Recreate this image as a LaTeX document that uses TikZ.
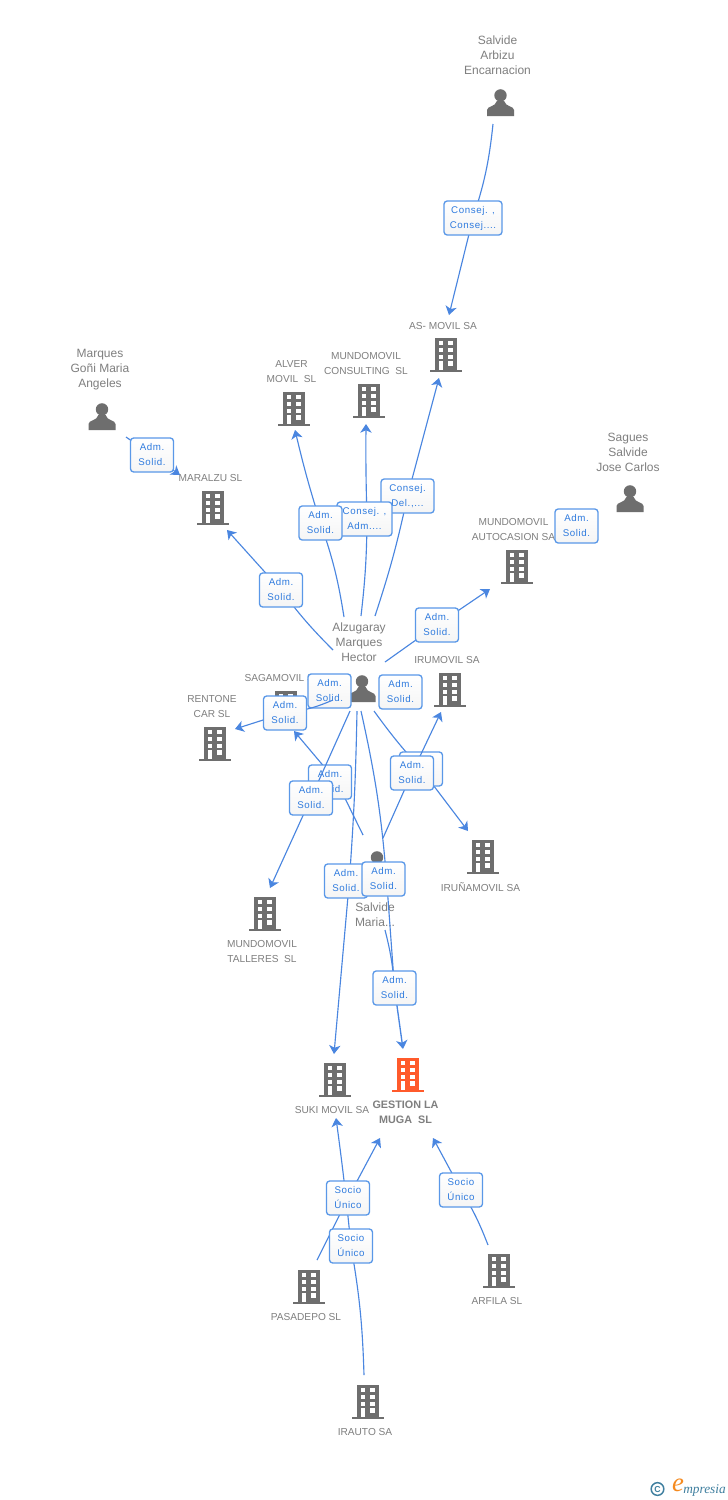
\documentclass[tikz,border=0pt]{standalone}
\usepackage{fontspec}
\setmainfont{Liberation Sans}
\newfontfamily\lblfont[LetterSpace=6]{Liberation Sans}
\newfontfamily\logofont{Liberation Serif}
\usetikzlibrary{arrows.meta,calc}
\definecolor{linkblue}{HTML}{4A86E0}
\definecolor{boxedge}{HTML}{5A98E8}
\definecolor{labeltxt}{HTML}{2F7BDE}
\definecolor{icongray}{HTML}{6E6E6E}
\definecolor{txtgray}{HTML}{7F7F7F}
\definecolor{orangeb}{HTML}{FF5A2B}
\definecolor{logoteal}{HTML}{3F7F9F}
\definecolor{logoorange}{HTML}{F58A1F}
\tikzset{
  x=0.75pt,y=-0.75pt,
  conn/.style={draw=linkblue,line width=0.85pt},
  arr/.style={conn,-{Stealth[length=6.5pt,width=8.5pt,inset=1.8pt]}},
  lab/.style={draw=boxedge,line width=1pt,rounded corners=2.4pt,top color=white,bottom color=black!4,
     minimum width=#1*0.75pt,minimum height=25.5pt,inner sep=0pt,align=center,text=labeltxt,
     font=\lblfont\fontsize{7.3}{11.25}\selectfont},
  lab/.default=43,
  ptxt/.style={text=txtgray,align=center,inner sep=0pt,font=\fontsize{9}{11.25}\selectfont},
  btxt/.style={text=txtgray,align=center,inner sep=0pt,yshift=-0.75pt,font=\fontsize{7.6}{11.25}\selectfont},
  gtxt/.style={text=txtgray,align=center,inner sep=0pt,yshift=-0.75pt,font=\bfseries\fontsize{8.1}{11.25}\selectfont},
  iconbox/.style={inner sep=0pt,minimum width=24pt,minimum height=25pt},
}
\newcommand{\bldicon}[3]{%
  \node[iconbox] (#1) at (#2) {};
  \begin{scope}[shift={(#1.center)}]
    \fill[#3] (-11,-17) rectangle (11,15);
    \fill[#3] (-16,15) rectangle (16,17);
    \foreach \yy in {-14,-7.3,-0.3}{
      \fill[white] (-7.5,\yy) rectangle (-2.7,\yy+4.4);
      \fill[white] (2.4,\yy) rectangle (7.4,\yy+4.4);
    }
    \fill[white] (-7.5,6.4) rectangle (-2.7,15);
    \fill[white] (2.4,6.4) rectangle (7.4,10.8);
  \end{scope}}
\newcommand{\perinicon}[2]{%
  \node[iconbox] (#1) at (#2) {};
  \begin{scope}[shift={(#1.center)}]
    \fill[icongray] (0,-7.6) circle (6.2);
    \fill[icongray] (-13.5,13) -- (-13.5,7) .. controls (-13.5,3) and (-5,4) .. (-3.6,-2) -- (3.6,-2)
       .. controls (5,4) and (13.5,3) .. (13.5,7) -- (13.5,13) -- cycle;
  \end{scope}}
\begin{document}
\begin{tikzpicture}
\useasboundingbox (0,0) rectangle (728,1500);
\fill[white] (0,0) rectangle (728,1500);

% ---- icons and names
\perinicon{arbizu}{500.5,103}
\node[ptxt] (arbizut) at (497.5,55) {Salvide\\Arbizu\\Encarnacion};
\bldicon{asmovil}{446,355}{icongray}
\node[btxt] (asmovilt) at (443,325) {AS- MOVIL SA};
\bldicon{alver}{294,409}{icongray}
\node[btxt] (alvert) at (291.5,370.5) {ALVER\\MOVIL\ \ SL};
\bldicon{consult}{369,401}{icongray}
\node[btxt] (consultt) at (366,362.5) {MUNDOMOVIL\\CONSULTING\ \ SL};
\perinicon{marques}{102,417}
\node[ptxt] (marquest) at (100,370) {Marques\\Goñi Maria\\Angeles};
\bldicon{maralzu}{213,508}{icongray}
\node[btxt] (maralzut) at (210.5,477) {MARALZU SL};
\perinicon{sagues}{630,499}
\node[ptxt] (saguest) at (628,452) {Sagues\\Salvide\\Jose Carlos};
\bldicon{autoc}{517,567}{icongray}
\node[btxt] (autoct) at (513.5,528.5) {MUNDOMOVIL\\AUTOCASION SA};
\bldicon{irumovil}{450,690}{icongray}
\node[btxt] (irumovilt) at (447,659) {IRUMOVIL SA};
\perinicon{alz}{362,689}
\node[ptxt] (alzt) at (359,642) {Alzugaray\\Marques\\Hector};
\bldicon{saga}{286,708}{icongray}
\node[btxt] (sagat) at (282,677) {SAGAMOVIL SL};
\bldicon{rentone}{215,744}{icongray}
\node[btxt] (rentonet) at (212,705.5) {RENTONE\\CAR SL};
\bldicon{iruna}{483,857}{icongray}
\node[btxt] (irunat) at (480.5,886) {IRUÑAMOVIL SA};
\perinicon{maria}{377,865}
\node[ptxt] (mariat) at (375,914.5) {Salvide\\Maria...};
\bldicon{talleres}{265,914}{icongray}
\node[btxt] (tallerest) at (262,950.5) {MUNDOMOVIL\\TALLERES\ \ SL};
\bldicon{suki}{335,1080}{icongray}
\node[btxt] (sukit) at (332,1109) {SUKI MOVIL SA};
\bldicon{gestion}{408,1075}{orangeb}
\node[gtxt] (gestiont) at (405.5,1111.5) {GESTION LA\\MUGA\ \ SL};
\bldicon{pasadepo}{309,1287}{icongray}
\node[btxt] (pasadepot) at (306,1316) {PASADEPO SL};
\bldicon{arfila}{499,1271}{icongray}
\node[btxt] (arfilat) at (497,1300) {ARFILA SL};
\bldicon{irauto}{368,1402}{icongray}
\node[btxt] (irautot) at (365,1431) {IRAUTO SA};

% ---- connectors with their labels, in stacking order
\coordinate (l1) at (473,218);
\draw[conn] ($(arbizu)+(-7.5,21)$) to[bend left=6] (l1);
\draw[arr] (l1) to ($(asmovil)+(3,-40)$);
\node[lab=58] (n1) at (l1) {Consej. ,\\Consej....};

\coordinate (l2) at (152,455);
\draw[conn] ($(marques)+(24,20)$) -- (l2);
\draw[arr] (l2) -- ($(maralzu)+(-33,-33)$);
\node[lab] (n2) at (l2) {Adm.\\Solid.};

\coordinate (l5) at (407.5,496);
\draw[conn] ($(alz)+(13,-73)$) to[bend right=3] (l5);
\draw[arr] (l5) -- ($(asmovil)+(-7,23)$);
\node[lab=53] (n5) at (l5) {Consej.\\Del.,...};

\coordinate (l4) at (367,519);
\draw[conn] ($(alz)+(-1,-73)$) to[bend right=3] (l4);
\draw[arr] (l4) to[bend left=1] ($(consult)+(-3,23)$);
\node[lab=55] (n4) at (364.5,519) {Consej. ,\\Adm....};

\coordinate (l3) at (320.5,523);
\draw[conn] ($(alz)+(-18,-72)$) to[bend right=5] (l3);
\draw[arr] (l3) to[bend left=2] ($(alver)+(1,21)$);
\node[lab] (n3) at (l3) {Adm.\\Solid.};

\coordinate (l6) at (281,590);
\draw[conn] ($(alz)+(-29,-39)$) to[bend left=4] (l6);
\draw[arr] (l6) -- ($(maralzu)+(14,22)$);
\node[lab] (n6) at (l6) {Adm.\\Solid.};

\coordinate (l7) at (437,625);
\draw[conn] ($(alz)+(23,-27)$) -- (l7);
\draw[arr] (l7) -- ($(autoc)+(-27,22)$);
\node[lab] (n7) at (l7) {Adm.\\Solid.};

\node[lab] (n8) at (576.5,526) {Adm.\\Solid.};

\node[lab] (n9) at (400.5,692) {Adm.\\Solid.};
\node[lab] (n10) at (329.5,691) {Adm.\\Solid.};

\coordinate (l11) at (285,713);
\draw[conn] ($(alz)+(-29,11)$) to[bend left=8] (l11);
\draw[arr] (l11) -- ($(rentone)+(20,-15)$);
\node[lab] (n11) at (l11) {Adm.\\Solid.};

\coordinate (l12) at (337,782);
\draw[conn] ($(maria)+(-14,-30)$) -- (l12);
\draw[arr] (l12) -- ($(saga)+(8,23)$);
\node[lab] (n12) at (330,782) {Adm.\\Solid.};

\coordinate (l13) at (311,798);
\draw[conn] ($(alz)+(-12,22)$) -- (l13);
\draw[arr] (l13) -- ($(talleres)+(5,-26)$);
\node[lab] (n13) at (l13) {Adm.\\Solid.};

\coordinate (l15) at (421,769);
\draw[conn] ($(alz)+(12,22)$) to[bend right=3] (l15);
\draw[arr] (l15) -- ($(iruna)+(-15,-26)$);
\node[lab] (n15) at (421,769) {};

\coordinate (l16) at (412,773);
\draw[conn] ($(maria)+(6,-27)$) -- (l16);
\draw[arr] (l16) -- ($(irumovil)+(-9,22)$);
\node[lab] (n16) at (l16) {Adm.\\Solid.};

\coordinate (l17) at (349,885);
\draw[conn] ($(alz)+(-5,22)$) to[bend left=1.5] (l17);
\draw[arr] (l17) -- ($(suki)+(-1,-26)$);
\node[lab] (n17) at (346,881) {Adm.\\Solid.};

\coordinate (l18) at (387,885);
\coordinate (l19) at (394.5,988);
\draw[conn] ($(alz)+(-1,22)$) to[bend left=4] (l18);
\draw[conn] (l18) -- (l19);
\node[lab] (n18) at (383.5,879) {Adm.\\Solid.};

\draw[conn] ($(maria)+(8,65)$) to[bend left=5] (l19);
\draw[arr,line width=1pt] (l19) -- ($(gestion)+(-5,-26)$);
\node[lab] (n19) at (l19) {Adm.\\Solid.};

\coordinate (l20) at (348,1198);
\coordinate (l21) at (351,1246);
\coordinate (l22) at (461,1190);
\draw[conn] ($(irauto)+(-4,-27)$) to[bend right=4] (l21);
\draw[arr] (l21) to[bend right=1] ($(suki)+(1,38)$);
\draw[conn] ($(pasadepo)+(8,-27)$) -- (l20);
\draw[arr] (l20) -- ($(gestion)+(-28,63)$);
\node[lab] (n21) at (l21) {Socio\\Único};
\node[lab] (n20) at (l20) {Socio\\Único};

\draw[conn] ($(arfila)+(-11,-26)$) to[bend right=5] (l22);
\draw[arr] (l22) -- ($(gestion)+(25,63)$);
\node[lab] (n22) at (l22) {Socio\\Único};

% ---- logo
\node[circle,draw=logoteal,line width=1.1pt,inner sep=0pt,minimum size=9.5pt,text=logoteal,
  font=\bfseries\fontsize{6.5}{6.5}\selectfont] (copy) at (657.5,1489) {C};
\node[text=logoorange,inner sep=0pt,font=\logofont\itshape\fontsize{20}{20}\selectfont] (loge) at (678,1485) {e};
\node[text=logoteal,inner sep=0pt,anchor=west,font=\logofont\itshape\fontsize{10}{10}\selectfont] (logt) at (683,1490) {mpresia};
\end{tikzpicture}
\end{document}
